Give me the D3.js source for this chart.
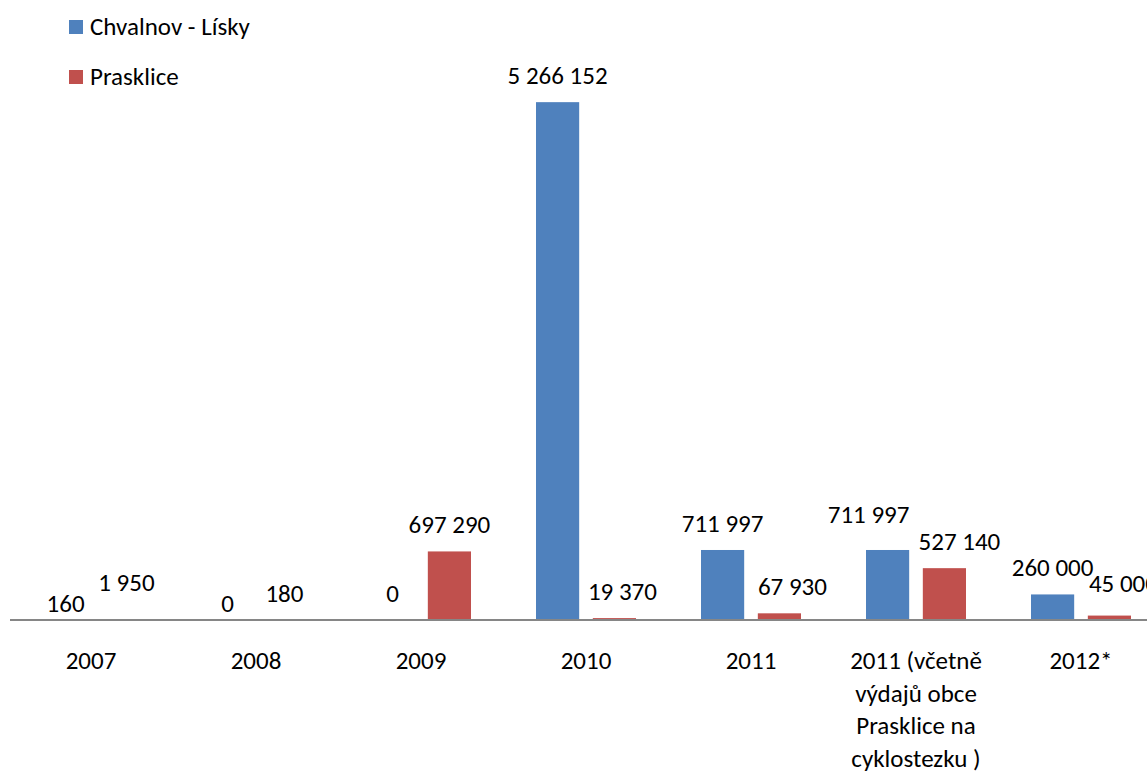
<!DOCTYPE html>
<html>
<head>
<meta charset="utf-8">
<script src="https://cdn.jsdelivr.net/npm/d3@7"></script>
<style>
  body { margin: 0; background: #fff; }
  svg { display: block; font-family: Calibri, Carlito, Lato, sans-serif; }
</style>
</head>
<body>
<div id="chart"></div>
<script>
// categories (line breaks as in the original axis)
var categories = [
    "2007", "2008", "2009", "2010", "2011",
    "2011 (včetně\nvýdajů obce\nPrasklice na\ncyklostezku )",
    "2012*"
];
var seriesNames = ["Chvalnov - Lísky", "Prasklice"];
var chvalnov = [160, 0, 0, 5266152, 711997, 711997, 260000];
var prasklice = [1950, 180, 697290, 19370, 67930, 527140, 45000];
var colors = ["#4F81BD", "#C0504D"];

// Excel moved some data labels to avoid overlaps: [dx, dy] per label
var labelShift = [
    [[3, 10], [0, 10], [0, 0], [0, 0], [0, 0], [-19, -9], [0, 0]],
    [[7, -11], [0, 0], [0, 0], [8, 0], [13, 0], [15, 0], [14, -6]]
];

var width = 1147, height = 772;
var fontSize = 25;

var svg = d3.select("#chart").append("svg")
    .attr("width", width)
    .attr("height", height);

var x = d3.scaleBand()
    .domain(d3.range(categories.length))
    .range([8.5, 1163.5]);

// bars take ~100 of the 165 px band, 12 px gap between the two
var inner = d3.scaleBand()
    .domain([0, 1])
    .range([x.bandwidth() / 2 - 50, x.bandwidth() / 2 + 50])
    .paddingInner(0.24);

var y = d3.scaleLinear()
    .domain([0, 6000000])
    .range([620, 30]);

var fmt = d3.formatLocale({ decimal: ",", thousands: " ", grouping: [3], currency: ["", ""] }).format(",d");

var series = [chvalnov, prasklice];

series.forEach(function (vals, s) {
    var g = svg.append("g");
    g.selectAll("rect")
        .data(vals)
        .enter().append("rect")
        .attr("x", (d, i) => x(i) + inner(s))
        .attr("width", inner.bandwidth())
        .attr("y", d => y(d))
        .attr("height", d => y(0) - y(d))
        .attr("fill", colors[s]);

    g.selectAll("text")
        .data(vals)
        .enter().append("text")
        .attr("x", (d, i) => x(i) + inner(s) + inner.bandwidth() / 2 + labelShift[s][i][0])
        .attr("y", (d, i) => y(d) - 18 + labelShift[s][i][1])
        .attr("text-anchor", "middle")
        .attr("font-size", fontSize)
        .attr("fill", "#000")
        .text(d => fmt(d));
});

// category axis line
svg.append("line")
    .attr("x1", 10)
    .attr("x2", width)
    .attr("y1", y(0))
    .attr("y2", y(0))
    .attr("stroke", "#868686")
    .attr("stroke-width", 2);

// category labels
var cat = svg.append("g").selectAll("text")
    .data(categories)
    .enter().append("text")
    .attr("text-anchor", "middle")
    .attr("font-size", fontSize)
    .attr("fill", "#000");

cat.selectAll("tspan")
    .data((d, i) => d.split("\n").map(t => ({ t: t, i: i })))
    .enter().append("tspan")
    .attr("x", d => x(d.i) + x.bandwidth() / 2)
    .attr("y", (d, k) => 669 + k * 32.5)
    .text(d => d.t);

// legend
var legend = svg.append("g").selectAll("g")
    .data(seriesNames)
    .enter().append("g")
    .attr("transform", (d, i) => "translate(69," + (20 + i * 50) + ")");

legend.append("rect")
    .attr("width", 14)
    .attr("height", 14)
    .attr("fill", (d, i) => colors[i]);

legend.append("text")
    .attr("x", 21)
    .attr("y", 15)
    .attr("font-size", fontSize)
    .attr("fill", "#000")
    .text(d => d);
</script>
</body>
</html>
